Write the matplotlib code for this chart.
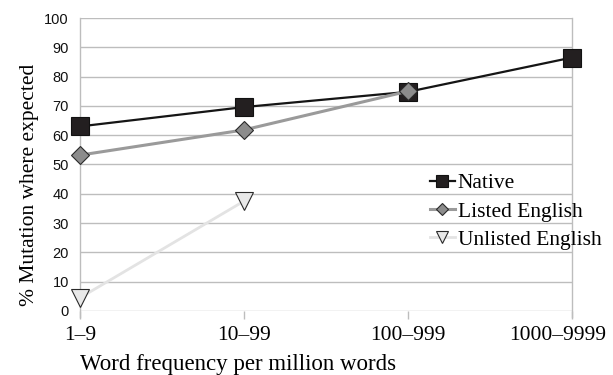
import numpy as np
import matplotlib.pyplot as plt

# data
categories = ['1\u20139', '10\u201399', '100\u2013999', '1000\u20139999']
native = [63, 69.6, 74.8, 86.5]
listed_english = [53.2, 61.8, 75, None]
unlisted_english = [4.5, 37.5, None, None]

serif = 'Liberation Serif'
sans = 'Liberation Sans'

fig = plt.figure(figsize=(6.13, 3.75), dpi=100)
ax = fig.add_axes([0.1305, 0.1707, 0.8025, 0.7813])

x = np.arange(len(categories))

def clean(vals):
    return np.array([np.nan if v is None else v for v in vals], dtype=float)

ax.plot(x, clean(unlisted_english), color='#e3e3e3', lw=2.0, marker='v', ms=13,
        mfc='#e8e8e8', mec='#2a2a2a', mew=0.8, label='Unlisted English', zorder=3,
        clip_on=False)
ax.plot(x, clean(listed_english), color='#9a9a9a', lw=2.2, marker='D', ms=9.2,
        mfc='#8c8c8c', mec='#2a2a2a', mew=0.8, label='Listed English', zorder=4,
        clip_on=False)
ax.plot(x, clean(native), color='#151515', lw=1.6, marker='s', ms=13,
        mfc='#231f20', mec='#111111', mew=0.8, label='Native', zorder=3,
        clip_on=False)

ax.set_xlim(0, len(categories) - 1)
ax.set_ylim(0, 100)
ax.set_yticks(np.arange(0, 101, 10))
ax.set_xticks(x)
# last category label is nudged left so it fits in the figure, drawn separately
ax.set_xticklabels(categories[:-1] + [''], fontfamily=serif, fontsize=15.5)
ax.annotate(categories[-1], xy=(x[-1], 0), xycoords=('data', 'axes fraction'),
            xytext=(-10, -11), textcoords='offset points', ha='center', va='top',
            fontfamily=serif, fontsize=15.5)
for lab in ax.get_yticklabels():
    lab.set_fontfamily(sans)
    lab.set_fontsize(10.5)
    lab.set_color('#111111')

ax.yaxis.grid(True, color='#bdbdbd', lw=1.0)
ax.set_axisbelow(True)
ax.tick_params(axis='y', length=0, pad=8)
ax.tick_params(axis='x', length=6, width=1.0, color='#bdbdbd', pad=5, direction='out')

for s in ['top', 'bottom']:
    ax.spines[s].set_visible(False)
for s in ['left', 'right']:
    ax.spines[s].set_color('#bdbdbd')
    ax.spines[s].set_linewidth(1.0)
    ax.spines[s].set_bounds(-2, 100)

ax.set_xlabel('Word frequency per million words', fontfamily=serif, fontsize=16.5,
              labelpad=6, ha='left', x=0)
ax.set_ylabel('% Mutation where expected', fontfamily=serif, fontsize=15.5,
              labelpad=4, y=0.43)

h, l = ax.get_legend_handles_labels()
leg = ax.legend(h[::-1], l[::-1], loc='upper left', bbox_to_anchor=(0.711, 0.47),
                frameon=False, prop={'family': serif, 'size': 15.5}, markerscale=0.7,
                handlelength=1.15, handletextpad=0.15, labelspacing=0.38, borderpad=0,
                borderaxespad=0)

fig.savefig('out.png', dpi=100)
